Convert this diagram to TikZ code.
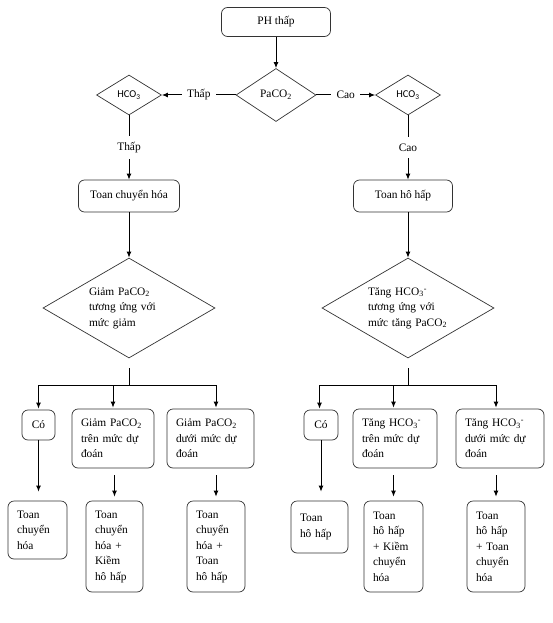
\documentclass[tikz,border=0pt]{standalone}
\usepackage{fontspec}
\setmainfont{Liberation Serif}
\newfontfamily\hcofont{Carlito}
\usetikzlibrary{shapes.geometric, arrows.meta}

\newcommand{\hcoIII}{HCO\textsubscript{3}}
\newcommand{\hcoMinus}{HCO\textsubscript{3}\textsuperscript{-}}
\newcommand{\pacoII}{PaCO\textsubscript{2}}

\begin{document}
\begin{tikzpicture}[x=1pt, y=1pt, node distance=100pt,
   >={Latex[length=6pt,width=5pt]},
   every node/.style={font=\fontsize{11.4}{15.5}\selectfont},
   main node/.style={draw=black!80, line width=0.7pt, rounded corners=6pt, align=left, inner xsep=9pt, inner ysep=0pt},
   choice node/.style={draw=black!80, line width=0.7pt, diamond, inner sep=0pt},
   small choice/.style={choice node, minimum width=65pt, minimum height=40pt, aspect=1.6, font=\hcofont\fontsize{10.5}{12}\selectfont},
   big choice/.style={choice node, minimum width=172pt, minimum height=100pt, aspect=1.7, text width=80pt, align=left},
   label node/.style={fill=white, inner xsep=5.5pt, inner ysep=6.5pt},
   flow/.style={->, line width=1pt}]
   \useasboundingbox (0,0) rectangle (553,-623);

   % top
   \node[main node, minimum width=109pt, minimum height=29pt] (0) at (276,-22) {PH thấp};
   \node[choice node, minimum width=80pt, minimum height=53pt] (1) [below of=0, node distance=73pt] {\pacoII};
   \node[small choice] (2) [left of=1, node distance=147pt] {\hcoIII};
   \node[small choice] (3) [right of=1, node distance=132pt] {\hcoIII};
   \node[main node, minimum width=101pt, minimum height=32pt] (4) [below of=2, node distance=101pt] {Toan chuyển hóa};
   \node[main node, minimum width=99pt, minimum height=32pt] (5) [below of=3, node distance=101pt, xshift=-5pt] {Toan hô hấp};
   \node[big choice] (6) [below of=4, node distance=112pt] {Giảm \pacoII\\tương ứng với\\mức giảm};
   \node[big choice] (7) [below of=3, node distance=213pt] {Tăng \hcoMinus\\tương ứng với\\mức tăng \pacoII};

   % left branch
   \node[main node, minimum width=33pt, minimum height=30pt] (8) [below of=6, node distance=117pt, xshift=-90.5pt] {Có};
   \node[main node, text width=64pt, minimum height=59pt] (9) [below of=6, node distance=130.5pt, xshift=-16pt] {Giảm \pacoII\\trên mức dự\\đoán};
   \node[main node, text width=69pt, minimum height=59pt] (10) [right of=9, node distance=97.5pt] {Giảm \pacoII\\dưới mức dự\\đoán};
   \node[main node, text width=41pt, minimum height=58pt] (14) [below of=8, node distance=105pt, xshift=-1pt] {Toan\\chuyển\\hóa};
   \node[main node, text width=39pt, minimum height=91pt] (15) [below of=9, node distance=108pt, xshift=1.5pt] {Toan\\chuyển\\hóa +\\Kiềm\\hô hấp};
   \node[main node, text width=40pt, minimum height=91pt] (16) [below of=10, node distance=108pt, xshift=5.5pt] {Toan\\chuyển\\hóa +\\Toan\\hô hấp};

   % right branch
   \node[main node, minimum width=34pt, minimum height=30pt] (11) [below of=7, node distance=117pt, xshift=-87pt] {Có};
   \node[main node, text width=66pt, minimum height=59pt] (12) [below of=7, node distance=130.5pt, xshift=-13pt] {Tăng \hcoMinus\\trên mức dự\\đoán};
   \node[main node, text width=70pt, minimum height=59pt] (13) [right of=12, node distance=105pt] {Tăng \hcoMinus\\dưới mức dự\\đoán};
   \node[main node, text width=39pt, minimum height=52pt] (17) [below of=11, node distance=102pt, xshift=-1.5pt] {Toan\\hô hấp};
   \node[main node, text width=41pt, minimum height=91pt] (18) [below of=12, node distance=108pt, xshift=-1.5pt] {Toan\\hô hấp\\+ Kiềm\\chuyển\\hóa};
   \node[main node, text width=40pt, minimum height=91pt] (19) [below of=13, node distance=108pt, xshift=-4pt] {Toan\\hô hấp\\+ Toan\\chuyển\\hóa};

   \coordinate (b6) at ([yshift=-27pt]6.south);
   \coordinate (b7) at ([yshift=-27pt]7.south);

   \draw (0) edge[flow] (1);
   \draw (1) edge[flow] node[label node] {Thấp} (2);
   \draw (1) edge[flow] node[label node] {Cao} (3);
   \draw (2) edge[flow] node[label node] {Thấp} (4);
   \draw (3) edge[flow] node[label node] {Cao} (3 |- 5.north);
   \draw (4) edge[flow] (6);
   \draw (7 |- 5.south) edge[flow] (7);

   \draw[line width=1pt] ([yshift=-10pt]6.south) -- (b6);
   \draw[flow, shorten >=1pt] (b6) -| (8.north);
   \draw[flow, shorten >=1pt] (b6) -| (9.north);
   \draw[flow, shorten >=1pt] (b6) -| (16 |- 10.north);
   \draw[line width=1pt] ([yshift=-10pt]7.south) -- (b7);
   \draw[flow, shorten >=1pt] (b7) -| (17 |- 11.north);
   \draw[flow, shorten >=1pt] (b7) -| (18 |- 12.north);
   \draw[flow, shorten >=1pt] (b7) -| (19 |- 13.north);

   \draw[flow, shorten >=9pt] (8) -- (8 |- 14.north);
   \draw[flow, shorten <=7pt, shorten >=4pt] (15 |- 9.south) -- (15);
   \draw[flow, shorten <=7pt, shorten >=4pt] (16 |- 10.south) -- (16);
   \draw[flow, shorten >=9pt] (11) -- (11 |- 17.north);
   \draw[flow, shorten <=7pt, shorten >=4pt] (18 |- 12.south) -- (18);
   \draw[flow, shorten <=7pt, shorten >=4pt] (19 |- 13.south) -- (19);
\end{tikzpicture}
\end{document}
